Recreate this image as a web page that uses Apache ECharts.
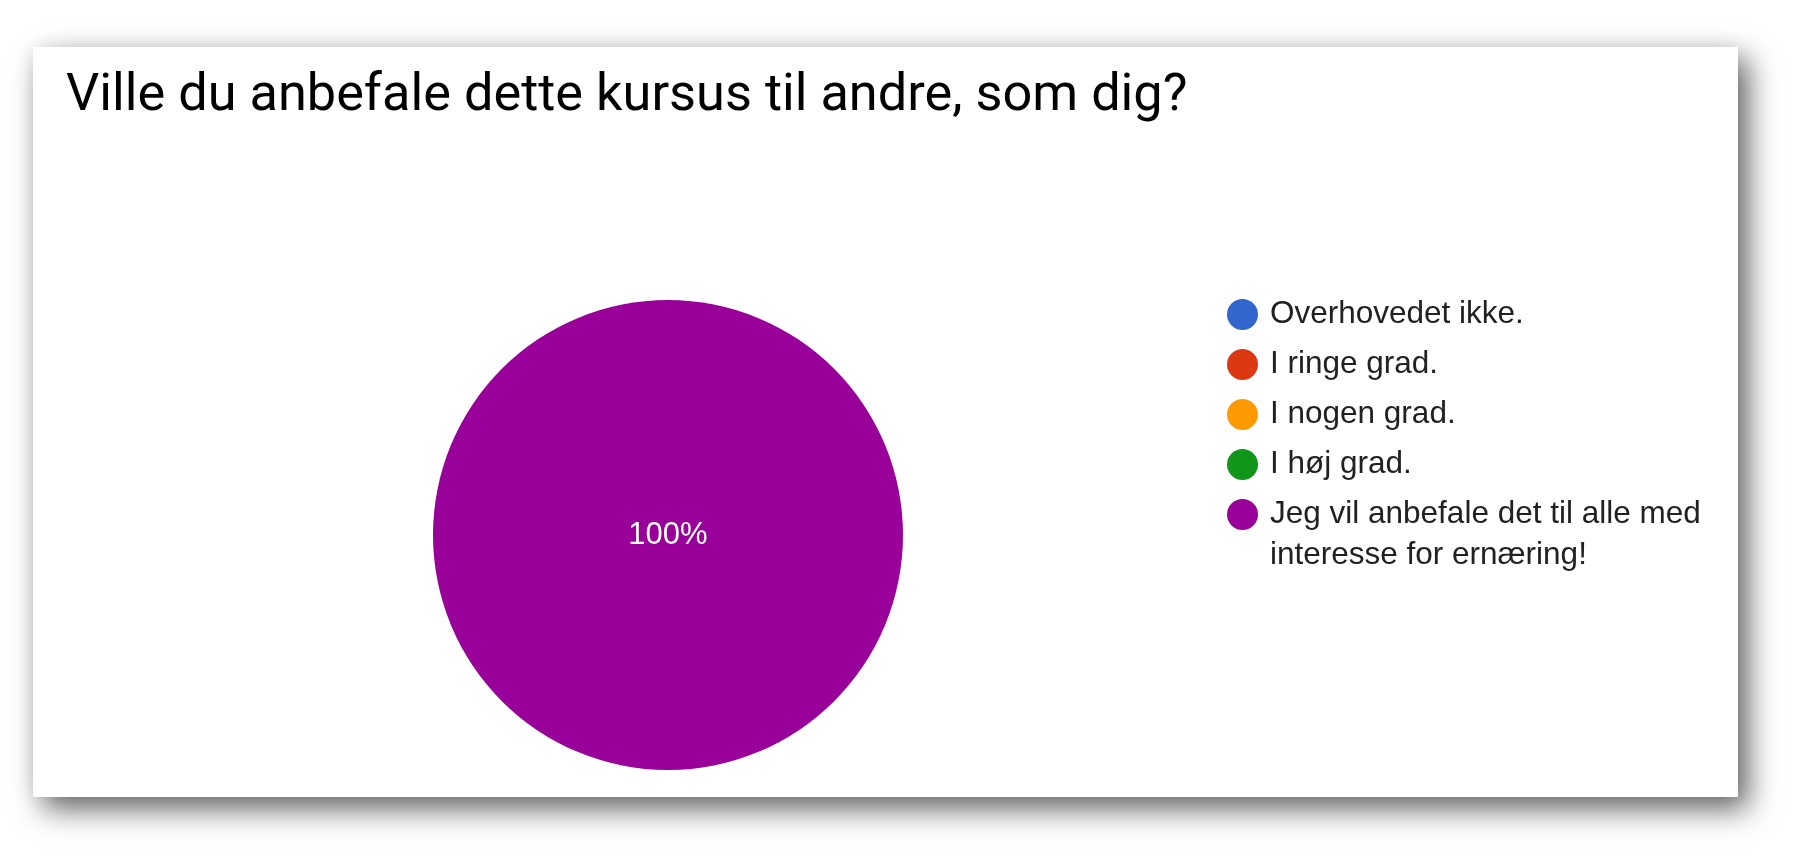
<!DOCTYPE html>
<html>
<head>
<meta charset="utf-8">
<script src="https://cdn.jsdelivr.net/npm/echarts@6/dist/echarts.min.js"></script>
<style>
    html, body { margin: 0; padding: 0; background: #fff; }
    #chart {
        position: absolute;
        left: 33px;
        top: 47px;
        width: 1705px;
        height: 750px;
        background: #fff;
        box-shadow: 10px 12px 28px rgba(0, 0, 0, 0.6), 0 0 20px rgba(0, 0, 0, 0.06);
    }
</style>
</head>
<body>
<div id="chart"></div>
<script>
    var titleText = 'Ville du anbefale dette kursus til andre, som dig?';
    var answers = ['Overhovedet ikke.', 'I ringe grad.', 'I nogen grad.', 'I høj grad.',
        'Jeg vil anbefale det til alle med interesse for ernæring!'];
    var shares = [0, 0, 0, 0, 100];   // procent af svar
    var colors = ['#3366cc', '#dc3912', '#ff9900', '#109618', '#990099'];

    var chart = echarts.init(document.getElementById('chart'));

    // alle punkter får samme tekstkasse (3 linjer), så afstanden bliver ens.
    // lange navne brydes efter "med" og får en tom linje foran,
    // så første linje står ud for prikken
    var legendData = answers.map(function (name) {
        var twoLines = name.indexOf(' med ') > -1;
        return {
            name: name,
            textStyle: {
                padding: twoLines ? [0, 0, 0, 7] : [41, 0, 41, 7]
            }
        };
    });

    var option = {
        color: colors,
        animation: false,
        title: {
            text: titleText,
            left: 28,
            top: 19,
            textStyle: {
                fontFamily: 'Roboto',
                fontSize: 52.3,
                fontWeight: 'normal',
                color: '#000'
            }
        },
        legend: {
            orient: 'vertical',
            left: 1189,
            top: 201,
            icon: 'circle',
            itemWidth: 31,
            itemHeight: 31,
            itemGap: -73,
            selectedMode: false,
            formatter: function (name) {
                return name.indexOf(' med ') > -1 ? '\n' + name.replace(' med ', ' med\n') : name;
            },
            textStyle: {
                fontFamily: 'Liberation Sans, Arial',
                fontSize: 31.5,
                lineHeight: 41,
                color: '#212121'
            },
            data: legendData
        },
        series: [
            {
                type: 'pie',
                center: [635, 488],
                radius: 235,
                startAngle: 90,
                silent: true,
                itemStyle: { borderWidth: 0 },
                label: {
                    show: true,
                    position: 'center',
                    fontFamily: 'Liberation Sans, Arial',
                    fontSize: 31,
                    color: '#fff',
                    formatter: function (p) {
                        return p.value ? Math.round(p.percent) + '%' : '';
                    }
                },
                labelLine: { show: false },
                emphasis: { disabled: true },
                data: answers.map(function (name, i) {
                    return { name: name, value: shares[i] };
                })
            }
        ]
    };
    chart.setOption(option);
</script>
</body>
</html>
